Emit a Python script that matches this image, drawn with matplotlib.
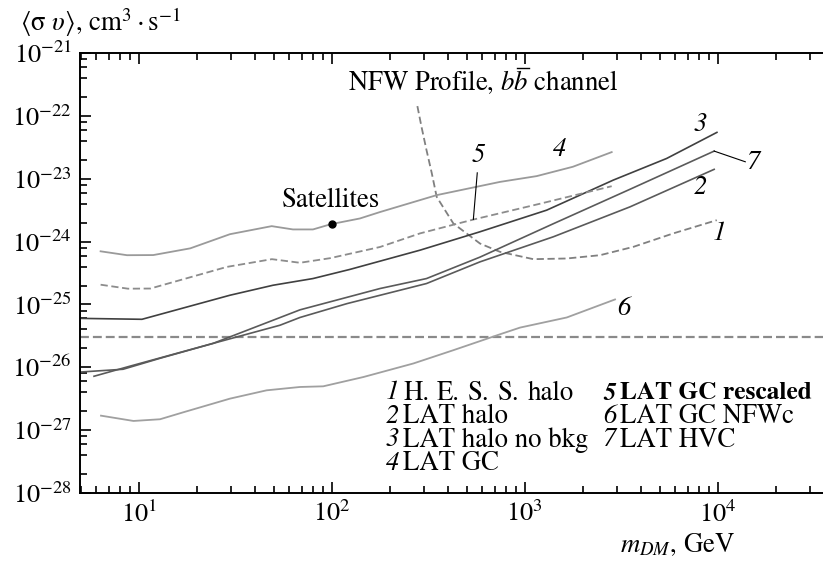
import numpy as np
import matplotlib
matplotlib.use('Agg')
import matplotlib.pyplot as plt
from matplotlib.lines import Line2D
from matplotlib.ticker import LogLocator, NullFormatter

plt.rcParams['font.family'] = 'STIXGeneral'
plt.rcParams['mathtext.fontset'] = 'stix'

# curve data: dark matter mass (GeV), <sigma v> (cm^3/s)
m1 = [278, 292, 310, 330, 350, 427, 587, 745, 1108, 1652, 2457, 3656, 5893, 9890]
s1 = [1.43e-22, 6.7e-23, 2.85e-23, 1.23e-23, 5.15e-24, 1.94e-24, 9.3e-25, 6.86e-25,
      5.25e-25, 5.38e-25, 6.07e-25, 8.24e-25, 1.35e-24, 2.19e-24]

m2 = [4.97, 8.3, 12.9, 24.3, 54, 68.5, 120, 310, 586, 1406, 3516, 9590]
s2 = [8.4e-27, 9.3e-27, 1.39e-26, 2.4e-26, 4.67e-26, 6.2e-26, 1.03e-25, 2.15e-25,
      4.75e-25, 1.19e-24, 3.57e-24, 1.41e-23]

m3 = [4.97, 10.4, 29.7, 49.7, 80, 124, 287, 586, 1300, 2877, 5440, 9910]
s3 = [6.0e-26, 5.8e-26, 1.4e-25, 2.02e-25, 2.58e-25, 3.6e-25, 7.3e-25, 1.43e-24,
      3.16e-24, 9.5e-24, 2.1e-23, 5.46e-23]

m4 = [6.35, 8.7, 11.9, 18.5, 29.7, 48.9, 63, 80, 99, 140, 178, 350, 745, 1154, 1778, 2824]
s4 = [7.0e-25, 6.07e-25, 6.1e-25, 7.8e-25, 1.31e-24, 1.76e-24, 1.56e-24, 1.56e-24,
      1.89e-24, 2.33e-24, 2.95e-24, 5.48e-24, 8.9e-24, 1.1e-23, 1.55e-23, 2.65e-23]

m5 = [6.35, 8.8, 11.5, 28.6, 49, 68.5, 98, 178, 287, 539, 1200, 2824]
s5 = [2.06e-25, 1.78e-25, 1.79e-25, 3.95e-25, 5.25e-25, 4.6e-25, 5.44e-25, 8.2e-25,
      1.35e-24, 2.23e-24, 4.0e-24, 7.6e-24]

m6 = [6.38, 9.4, 12.9, 17, 29.7, 46, 68.5, 90.4, 146, 265, 427, 745, 946, 1652, 2938]
s6 = [1.7e-27, 1.4e-27, 1.49e-27, 1.92e-27, 3.17e-27, 4.3e-27, 4.86e-27, 4.98e-27,
      7.0e-27, 1.15e-26, 1.87e-26, 3.35e-26, 4.28e-26, 6.2e-26, 1.2e-25]

m7 = [5.87, 9.0, 24.3, 68.5, 178, 310, 586, 1406, 3516, 9590]
s7 = [7.2e-27, 1.04e-26, 2.4e-26, 8.2e-26, 1.79e-25, 2.58e-25, 5.65e-25, 1.92e-24,
      6.8e-24, 2.75e-23]

thermal = 3e-26
sat_m, sat_s = 100, 1.9e-24

hess_words = ['H.', 'E.', 'S.', 'S.', 'halo']
legend_col1 = [('1', None), ('2', 'LAT halo'),
               ('3', 'LAT halo no bkg'), ('4', 'LAT GC')]
legend_col2 = [('5', 'LAT GC rescaled'), ('6', 'LAT GC NFWc'), ('7', 'LAT HVC')]

W, H = 823, 563
fig = plt.figure(figsize=(W / 100, H / 100), dpi=100)
ax = fig.add_axes([80 / W, 1 - 493 / H, 1 - 80 / W, (493 - 53) / H])

def px(x, y):
    return x / W, 1 - y / H

ax.set_xscale('log')
ax.set_yscale('log')
ax.set_xlim(4.966, 35130)
ax.set_ylim(1e-28, 1e-21)

ax.axhline(thermal, color='#8a8a8a', lw=1.6, ls=(0, (4, 1.8)))
ax.plot(m1, s1, color='#808080', lw=1.3, ls=(0, (4, 2)))
ax.plot(m2, s2, color='#5a5a5a', lw=1.2)
ax.plot(m3, s3, color='#404040', lw=1.2)
ax.plot(m4, s4, color='#9a9a9a', lw=1.3)
ax.plot(m5, s5, color='#8c8c8c', lw=1.3, ls=(0, (4, 2)))
ax.plot(m6, s6, color='#a0a0a0', lw=1.3)
ax.plot(m7, s7, color='#5a5a5a', lw=1.2)
ax.plot([sat_m], [sat_s], 'o', color='black', ms=5)

# leader lines
ax.plot([9590, 13900], [2.75e-23, 1.86e-23], color='black', lw=0.8)
ax.plot([568, 542], [1.24e-23, 2.25e-24], color='black', lw=0.8)

ax.spines['right'].set_visible(False)
for s in ['left', 'bottom', 'top']:
    ax.spines[s].set_linewidth(1.4)
ax.tick_params(which='both', direction='in', top=True, right=False, width=1.2,
               labelsize=19, pad=6)
ax.tick_params(which='major', length=8)
ax.tick_params(which='minor', length=5)
ax.yaxis.set_major_locator(LogLocator(base=10, numticks=10))
ax.yaxis.set_minor_locator(LogLocator(base=10, subs=(2, 4, 6, 8), numticks=10))
ax.yaxis.set_minor_formatter(NullFormatter())
ax.xaxis.set_minor_locator(LogLocator(base=10, subs=np.arange(2, 10), numticks=12))
ax.xaxis.set_minor_formatter(NullFormatter())

fs = 19.3
fig.text(*px(20, 22), r'$\langle\mathrm{\sigma}\ \upsilon\rangle$, cm$^3\cdot$s$^{-1}$',
         fontsize=fs, va='center', ha='left')
fig.text(*px(620, 545), r'$m_{DM}$, GeV', fontsize=fs, va='center', ha='left')

# title with anti-b: bar drawn over the second b
renderer = fig.canvas.get_renderer()
ty = 82
title = fig.text(*px(348, ty), r'NFW Profile, $bb$ channel', fontsize=fs,
                 va='center', ha='left')
part1 = fig.text(*px(348, ty), r'NFW Profile, $b$', fontsize=fs, va='center', ha='left')
part2 = fig.text(*px(348, ty), r'NFW Profile, $bb$', fontsize=fs, va='center', ha='left')
e1 = part1.get_window_extent(renderer)
e2 = part2.get_window_extent(renderer)
part1.remove()
part2.remove()
bar_y = e2.y1 + 0.5
fig.add_artist(Line2D([(e1.x1 + 2) / W, (e2.x1 + 1) / W], [bar_y / H, bar_y / H],
                      color='black', lw=1.0, transform=fig.transFigure))

fig.text(*px(282, 200), 'Satellites', fontsize=fs, va='center', ha='left')

for lab, (x, y) in [('3', (700, 125)), ('7', (754, 163)), ('2', (700, 188)),
                    ('4', (560, 150)), ('5', (478, 156)), ('1', (719, 234)),
                    ('6', (624, 309))]:
    fig.text(*px(x, y), lab, fontsize=fs, style='italic', va='center', ha='center')

rows = [393, 416.5, 440, 463.5]
for (num, txt), y in zip(legend_col1, rows):
    fig.text(*px(386, y), num, fontsize=fs, style='italic', va='center', ha='left')
    if txt is None:
        # wide-spaced "H. E. S. S. halo"
        for word, x in zip(hess_words, [403, 436.5, 468, 498, 528]):
            fig.text(*px(x, y), word, fontsize=fs, va='center', ha='left')
    else:
        fig.text(*px(403, y), txt, fontsize=fs, va='center', ha='left')
for i, ((num, txt), y) in enumerate(zip(legend_col2, rows)):
    w = 'bold' if i == 0 else 'normal'
    f = 18.3 if i == 0 else fs
    fig.text(*px(603, y), num, fontsize=f, style='italic', weight=w, va='center', ha='left')
    fig.text(*px(620, y), txt, fontsize=f, weight=w, va='center', ha='left')

fig.savefig('out.png', dpi=100)
